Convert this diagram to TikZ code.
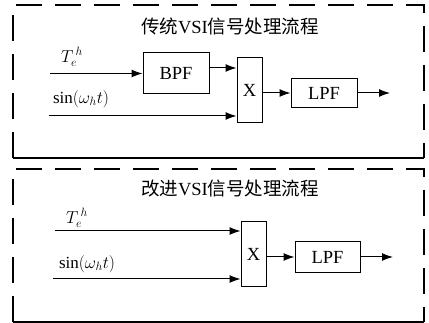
\documentclass[tikz,border=0pt]{standalone}
\usepackage{fontspec}
\setmainfont{Liberation Serif}
\newfontfamily\cjk{Noto Sans CJK SC}
\usetikzlibrary{arrows.meta}
\begin{document}
\begin{tikzpicture}[x=1pt,y=-1pt,
  font=\fontsize{18.5}{22}\selectfont,
  frame/.style={line width=1.1pt,dash pattern=on 26pt off 13pt},
  blk/.style={draw,line width=1pt,inner sep=0pt},
  sig/.style={line width=1pt,-{Latex[length=11pt,width=8pt]}}]
\useasboundingbox (0,0) rectangle (429,323);

\draw[frame] (13,158) -- (13,5) -- (424,5) -- (424,158);
\draw[line width=1.1pt] (13,158) -- (424,158);
\node (titleA) at (230,26) {{\cjk 传统}VSI{\cjk 信号处理流程}};
\node[blk,minimum width=66pt,minimum height=41pt] (bpfA) at (176,73.5) {BPF};
\node[blk,minimum width=25pt,minimum height=65pt] (mulA) at (249.5,90.5) {X};
\node[blk,minimum width=66pt,minimum height=29pt] (lpfA) at (324,93) {LPF};
\coordinate (teA) at (50,73.5);
\coordinate (sinA) at (49,116);
\coordinate (outA) at (390,93);
\node[font=\fontsize{17}{20}\selectfont] (teAlabel) at (72,57) {$T_e^{\,h}$};
\node[font=\fontsize{17}{20}\selectfont] (sinAlabel) at (81,99) {$\sin\bigl(\omega_h t\bigr)$};
\draw[sig] (teA) -- (bpfA.west);
\draw[sig] (sinA) -- (sinA -| mulA.west);
\draw[sig] ([yshift=5.5pt]bpfA.east) -- ([yshift=5.5pt]bpfA.east -| mulA.west);
\draw[sig] (lpfA.west -| mulA.east) -- (lpfA.west);
\draw[sig] (lpfA.east) -- (outA);

\draw[frame] (13,322) -- (13,169) -- (424,169) -- (424,322);
\draw[line width=1.1pt] (13,322) -- (424,322);
\node (titleB) at (230,189) {{\cjk 改进}VSI{\cjk 信号处理流程}};
\node[blk,minimum width=25pt,minimum height=65pt] (mulB) at (253.5,254.5) {X};
\node[blk,minimum width=65pt,minimum height=31pt] (lpfB) at (327.5,257) {LPF};
\coordinate (teB) at (55,231);
\coordinate (sinB) at (53,279);
\coordinate (outB) at (393,257);
\node[font=\fontsize{17}{20}\selectfont] (teBlabel) at (77,218) {$T_e^{\,h}$};
\node[font=\fontsize{17}{20}\selectfont] (sinBlabel) at (87,264) {$\sin\bigl(\omega_h t\bigr)$};
\draw[sig] (teB) -- (teB -| mulB.west);
\draw[sig] (sinB) -- (sinB -| mulB.west);
\draw[sig] (lpfB.west -| mulB.east) -- (lpfB.west);
\draw[sig] (lpfB.east) -- (outB);
\end{tikzpicture}
\end{document}
